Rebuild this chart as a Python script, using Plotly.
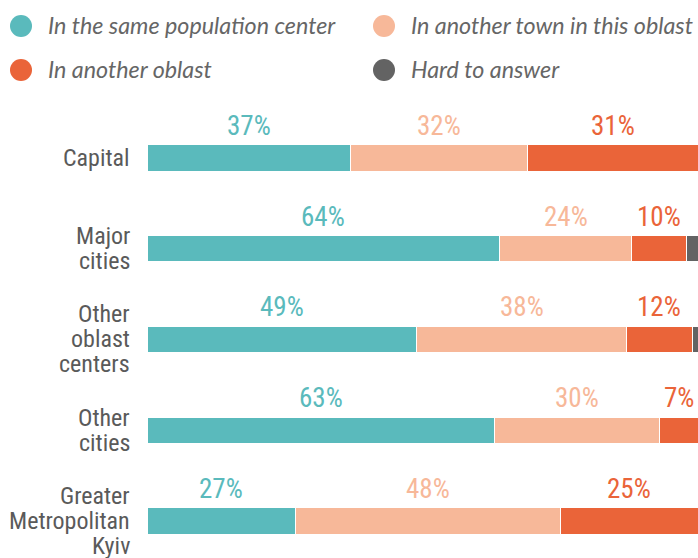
import plotly.graph_objects as go

categories = ["Capital", "Major\ncities", "Other\noblast\ncenters", "Other\ncities", "Greater\nMetropolitan\nKyiv"]
series_names = ["In the same population center", "In another town in this oblast",
                "In another oblast", "Hard to answer"]
same = [37, 64, 49, 63, 27]
town = [32, 24, 38, 30, 48]
oblast = [31, 10, 12, 7, 25]
hard = [0, 2, 1, 0, 0]
series_values = [same, town, oblast, hard]
colors = ["#5ABABC", "#F7B899", "#EA6439", "#636363"]
label_series = [True, True, True, False]

cat_keys = [c.replace("\n", " ") for c in categories]

COND = "Liberation Sans Narrow, Roboto Condensed, Arial Narrow, sans-serif"

W, H = 698, 558
ML, MT = 147, 100
PW, PH = W - ML, H - MT

def px_to_paper_x(px):
    return (px - ML) / PW

def px_to_paper_y(py):
    return (H - py) / PH

fig = go.Figure()
for name, vals, col in zip(series_names, series_values, colors):
    fig.add_trace(go.Bar(
        y=cat_keys, x=vals, orientation="h", name=name,
        marker=dict(color=col, line=dict(color="white", width=1)),
        width=0.29, showlegend=False, hoverinfo="x+y+name",
    ))

annotations = []
shapes = []
# value labels above segments
for s, (vals, col, show) in enumerate(zip(series_values, colors, label_series)):
    if not show:
        continue
    for j, key in enumerate(cat_keys):
        start = sum(series_values[k][j] for k in range(s))
        mid = start + vals[j] / 2
        annotations.append(dict(
            x=mid, y=key, xref="x", yref="y", text=f"{vals[j]}%",
            showarrow=False, yshift=32, xanchor="center", yanchor="middle",
            font=dict(family=COND, size=27, color=col),
        ))
# category labels, one annotation per line
for j, (cat, key) in enumerate(zip(categories, cat_keys)):
    lines = cat.split("\n")
    n = len(lines)
    for i, line in enumerate(lines):
        annotations.append(dict(
            x=0, y=key, xref="paper", yref="y", text=line, showarrow=False,
            xanchor="right", yanchor="middle", xshift=-15,
            yshift=-(i - (n - 1) / 2) * 25,
            font=dict(family=COND, size=24, color="#5a5a5a"),
        ))

# legend: two columns of circle + italic label
legend_cols_px = [21, 384]   # circle centre x (figure px) for each column
legend_rows_px = [26, 70]    # row centre y (figure px)
legend_slots = [(0, 0), (1, 0), (0, 1), (1, 1)]  # (column, row) for each series
legend_font = dict(family="Lato, Roboto, sans-serif", size=23.3, color="#666666", style="italic")
for (c, r), name, col in zip(legend_slots, series_names, colors):
    cx = px_to_paper_x(legend_cols_px[c])
    cy = px_to_paper_y(legend_rows_px[r])
    shapes.append(dict(
        type="circle", xref="paper", yref="paper",
        xsizemode="pixel", ysizemode="pixel", xanchor=cx, yanchor=cy,
        x0=-11, x1=11, y0=-11, y1=11,
        fillcolor=col, line=dict(width=0),
    ))
    annotations.append(dict(
        x=cx, y=cy, xref="paper", yref="paper", text=name, showarrow=False,
        xanchor="left", yanchor="middle", xshift=25, yshift=1,
        font=legend_font,
    ))

fig.update_layout(
    width=W, height=H,
    margin=dict(l=ML, r=0, t=MT, b=0),
    barmode="stack",
    plot_bgcolor="white", paper_bgcolor="white",
    showlegend=False,
    xaxis=dict(range=[0, 100], visible=False, fixedrange=True),
    yaxis=dict(range=[4.408, -0.639], showticklabels=False, showgrid=False,
               zeroline=False, showline=False, ticks="", fixedrange=True),
    annotations=annotations,
    shapes=shapes,
)

fig.write_html("out.html",
               config={"displayModeBar": False},
               post_script="document.body.style.margin='0';document.body.style.overflow='hidden';")
